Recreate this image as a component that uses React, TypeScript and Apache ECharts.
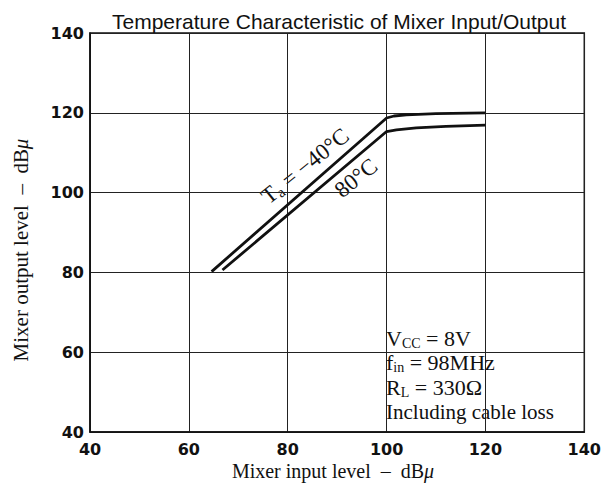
import React, { useEffect, useRef } from "react";
import * as echarts from "echarts";

const xTicks = [40, 60, 80, 100, 120, 140];
const yTicks = [40, 60, 80, 100, 120, 140];

const minus40X = [64.6, 100, 101.5, 104, 110, 120];
const minus40Y = [80.2, 118.7, 119.2, 119.5, 119.8, 120.0];

const plus80X = [66.8, 100, 102, 106, 112, 120];
const plus80Y = [80.6, 115.3, 115.7, 116.2, 116.6, 116.9];

const titleText = "Temperature Characteristic of Mixer Input/Output";
const xName = "Mixer input level  \u2013  dB{i|\u03bc}";
const yName = "Mixer output level  \u2013  dB{i|\u03bc}";
const conditions = ["V{s|CC} = 8V", "f{s|in} = 98MHz", "R{s|L} = 330\u03a9", "Including cable loss"];

const SERIF = "'Liberation Serif', 'DejaVu Serif', serif";
const SANS = "'DejaVu Sans', 'Liberation Sans', sans-serif";

export default function App() {
  const ref = useRef<HTMLDivElement>(null);
  useEffect(() => {
    if (!ref.current) return;
    const chart = echarts.init(ref.current, null, { renderer: "svg" });
    const mkRich = (size: number) => ({
      s: { fontSize: Math.round(size * 0.65), fontFamily: SERIF, color: "#111", padding: [Math.round(size * 0.45), 0, 0, 0] },
      i: { fontSize: size, fontFamily: SERIF, color: "#111", fontStyle: "italic" },
    });
    const deg = Math.PI / 180;
    const txt = (text: string, size: number, align: string) => ({
      text,
      rich: mkRich(size),
      fontSize: size,
      fontFamily: SERIF,
      fill: "#111",
      align,
      verticalAlign: "middle",
    });
    chart.setOption({
      animation: false,
      backgroundColor: "#fff",
      title: {
        text: titleText,
        left: 107,
        top: 6,
        textStyle: { fontFamily: "'Liberation Sans', Arial, sans-serif", fontSize: 21, fontWeight: "normal", color: "#111" },
      },
      grid: { left: 90, right: 19, top: 33, bottom: 52, show: true, borderColor: "#111", borderWidth: 1.5 },
      xAxis: {
        type: "value",
        min: xTicks[0],
        max: xTicks[xTicks.length - 1],
        interval: 20,
        axisLine: { show: true, lineStyle: { color: "#111", width: 1.5 } },
        axisTick: { show: false },
        splitLine: { show: true, lineStyle: { color: "#222", width: 1 } },
        axisLabel: { color: "#111", fontFamily: SANS, fontWeight: "bold", fontSize: 16, margin: 9, showMinLabel: true, showMaxLabel: true },
      },
      yAxis: {
        type: "value",
        min: yTicks[0],
        max: yTicks[yTicks.length - 1],
        interval: 20,
        axisLine: { show: true, lineStyle: { color: "#111", width: 1.5 } },
        axisTick: { show: false },
        splitLine: { show: true, lineStyle: { color: "#222", width: 1 } },
        axisLabel: { color: "#111", fontFamily: SANS, fontWeight: "bold", fontSize: 16, margin: 6, showMinLabel: true, showMaxLabel: true },
      },
      series: [
        {
          name: "-40",
          type: "line",
          symbol: "none",
          data: minus40X.map((x, k) => [x, minus40Y[k]]),
          lineStyle: { color: "#111", width: 2.8 },
        },
        {
          name: "80",
          type: "line",
          symbol: "none",
          data: plus80X.map((x, k) => [x, plus80Y[k]]),
          lineStyle: { color: "#111", width: 2.8 },
        },
      ],
      graphic: [
        { type: "text", x: 333, y: 471, style: txt(xName, 20, "center") },
        { type: "text", x: 21, y: 250, rotation: 90 * deg, style: txt(yName, 21, "center") },
        { type: "text", x: 305, y: 166, rotation: 39 * deg, style: txt("T{s|a} = \u221240\u00b0C", 23, "center") },
        { type: "text", x: 356, y: 178, rotation: 39 * deg, style: txt("80\u00b0C", 23, "center") },
        ...conditions.map((t, k) => ({
          type: "text",
          x: 386,
          y: [338, 362, 387, 412][k],
          style: txt(t, k === 3 ? 21 : 22, "left"),
        })),
      ],
    });
    return () => chart.dispose();
  }, []);
  return <div ref={ref} style={{ position: "absolute", left: 0, top: 0, width: 604, height: 484, background: "#fff" }} />;
}
